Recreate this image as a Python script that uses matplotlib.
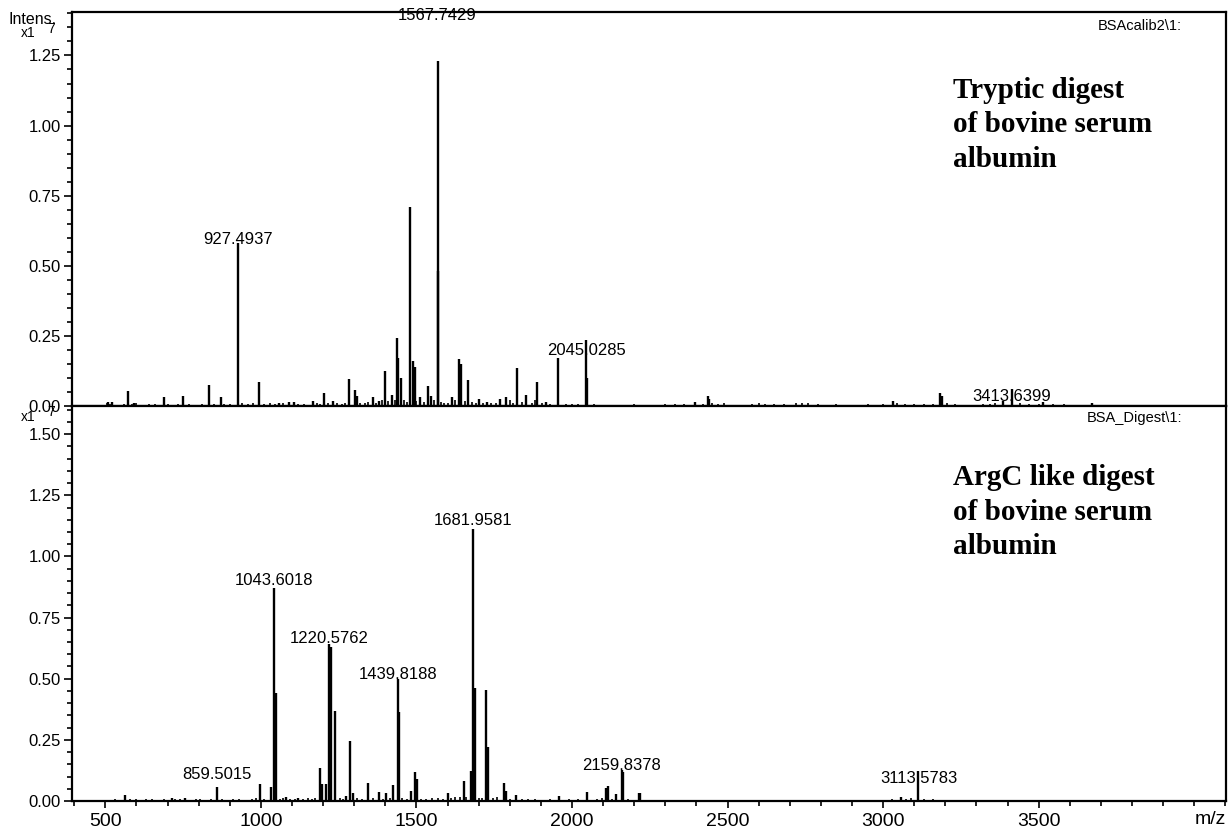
import matplotlib
matplotlib.use('Agg')
import matplotlib.pyplot as plt
from matplotlib.ticker import MultipleLocator, FixedLocator, FormatStrFormatter

plt.rcParams['font.family'] = ['Liberation Sans', 'DejaVu Sans']

# ---------------- data (intensity in units of 1e7) ----------------
top_mz = [508, 521, 574, 593, 689, 751, 832, 871, 927.4937, 994, 1058, 1091, 1108,
          1166, 1204, 1231, 1283, 1304, 1310, 1360, 1381, 1399, 1423, 1436, 1441,
          1450, 1479.8, 1488, 1495, 1513, 1537, 1546, 1567.7429, 1569.5, 1615, 1638,
          1644, 1665, 1700, 1727, 1770, 1788, 1824, 1852, 1889, 1916, 1956,
          2045.0285, 2049, 2395, 2437, 2441, 3031, 3184, 3190, 3385, 3413.6399, 3515, 3670]
top_int = [0.014, 0.014, 0.055, 0.010, 0.031, 0.036, 0.074, 0.031, 0.583, 0.086, 0.012, 0.015, 0.013,
           0.017, 0.045, 0.017, 0.096, 0.056, 0.037, 0.031, 0.017, 0.125, 0.038, 0.243, 0.171,
           0.100, 0.710, 0.160, 0.140, 0.033, 0.070, 0.036, 1.230, 0.480, 0.033, 0.167,
           0.148, 0.091, 0.025, 0.015, 0.025, 0.033, 0.135, 0.040, 0.085, 0.015, 0.170,
           0.235, 0.100, 0.015, 0.036, 0.025, 0.018, 0.048, 0.036, 0.018, 0.062, 0.014, 0.010]

top_noise_mz = [505, 515, 540, 560, 585, 600, 620, 640, 660, 700, 720, 735, 770, 790, 810, 850,
                880, 900, 940, 960, 975, 1010, 1030, 1045, 1070, 1120, 1140, 1180, 1190, 1215,
                1245, 1260, 1270, 1320, 1335, 1345, 1370, 1390, 1410, 1430, 1460, 1470, 1500,
                1525, 1555, 1580, 1590, 1600, 1625, 1655, 1680, 1690, 1715, 1740, 1755, 1800,
                1810, 1840, 1870, 1880, 1905, 1930, 1980, 2000, 2020, 2070, 2100, 2150, 2200,
                2250, 2300, 2330, 2360, 2420, 2450, 2470, 2490, 2520, 2580, 2600, 2620, 2650,
                2680, 2720, 2740, 2760, 2790, 2850, 2900, 2950, 3000, 3045, 3070, 3100, 3130,
                3160, 3205, 3230, 3270, 3320, 3345, 3360, 3440, 3470, 3500, 3545, 3580, 3620,
                3700, 3800, 3900, 3990]
top_noise_int = [0.012, 0.006, 0.005, 0.008, 0.006, 0.010, 0.005, 0.007, 0.006, 0.008, 0.005,
                 0.006, 0.008, 0.005, 0.007, 0.006, 0.008, 0.006, 0.009, 0.007, 0.010, 0.008,
                 0.011, 0.007, 0.009, 0.008, 0.006, 0.010, 0.007, 0.009, 0.012, 0.008, 0.010,
                 0.012, 0.009, 0.015, 0.012, 0.020, 0.018, 0.020, 0.020, 0.015, 0.018, 0.015,
                 0.020, 0.015, 0.010, 0.012, 0.020, 0.018, 0.015, 0.012, 0.010, 0.012, 0.010,
                 0.020, 0.012, 0.015, 0.012, 0.020, 0.010, 0.008, 0.006, 0.008, 0.006, 0.006,
                 0.005, 0.005, 0.006, 0.005, 0.006, 0.008, 0.006, 0.008, 0.010, 0.008, 0.010,
                 0.005, 0.008, 0.010, 0.008, 0.007, 0.006, 0.010, 0.012, 0.009, 0.007, 0.006,
                 0.005, 0.006, 0.007, 0.012, 0.008, 0.006, 0.007, 0.008, 0.012, 0.006, 0.005,
                 0.007, 0.008, 0.010, 0.010, 0.008, 0.007, 0.008, 0.006, 0.005, 0.004, 0.004,
                 0.004, 0.004]

bot_mz = [564, 713, 756, 859.5015, 997, 1031, 1043.6018, 1048.5, 1080, 1120, 1190, 1197.6,
          1208.7, 1220.5762, 1224, 1237, 1274, 1286, 1296, 1344, 1381, 1403, 1424,
          1439.8188, 1444, 1482, 1496, 1501, 1601, 1652, 1677, 1681.9581, 1687, 1724, 1729,
          1783, 1787, 1819, 1958, 2048, 2108, 2115, 2143, 2159.8378, 2163, 2214, 2220,
          3057, 3113.5783]
bot_int = [0.025, 0.014, 0.013, 0.058, 0.068, 0.058, 0.870, 0.440, 0.018, 0.014, 0.135, 0.068,
           0.068, 0.640, 0.630, 0.369, 0.020, 0.246, 0.034, 0.074, 0.036, 0.031, 0.066,
           0.500, 0.365, 0.041, 0.120, 0.090, 0.031, 0.083, 0.124, 1.114, 0.460, 0.455, 0.220,
           0.075, 0.040, 0.023, 0.020, 0.035, 0.055, 0.063, 0.027, 0.127, 0.120, 0.031, 0.034,
           0.018, 0.123]

bot_noise_mz = [480, 495, 510, 530, 545, 580, 600, 615, 630, 650, 670, 690, 700, 725, 740,
                770, 790, 805, 820, 840, 875, 890, 910, 930, 950, 970, 985, 1010, 1060, 1070,
                1095, 1110, 1135, 1150, 1165, 1175, 1255, 1265, 1310, 1325, 1360, 1392, 1415,
                1455, 1470, 1515, 1530, 1550, 1570, 1585, 1610, 1625, 1640, 1660, 1700, 1710,
                1745, 1760, 1800, 1840, 1860, 1880, 1900, 1930, 1990, 2020, 2080, 2095, 2130,
                2180, 2200, 2250, 2300, 2350, 2400, 2450, 2500, 2550, 2600, 2650, 2700, 2750,
                2800, 2850, 2900, 2950, 3000, 3030, 3075, 3090, 3130, 3160, 3200, 3250, 3300,
                3350, 3400, 3450, 3500, 3550, 3600, 3650, 3700, 3750, 3800, 3850, 3900, 3950,
                3995]
bot_noise_int = [0.004, 0.006, 0.005, 0.007, 0.006, 0.008, 0.010, 0.006, 0.007, 0.009, 0.006,
                 0.008, 0.006, 0.010, 0.007, 0.006, 0.008, 0.007, 0.006, 0.009, 0.007, 0.006,
                 0.008, 0.007, 0.006, 0.009, 0.012, 0.008, 0.010, 0.012, 0.008, 0.010, 0.009,
                 0.012, 0.010, 0.012, 0.012, 0.010, 0.014, 0.010, 0.012, 0.010, 0.012, 0.012,
                 0.010, 0.008, 0.010, 0.012, 0.014, 0.010, 0.012, 0.016, 0.015, 0.018, 0.014,
                 0.012, 0.012, 0.015, 0.010, 0.008, 0.010, 0.008, 0.006, 0.008, 0.007, 0.010,
                 0.008, 0.012, 0.010, 0.008, 0.006, 0.005, 0.005, 0.005, 0.006, 0.005, 0.005,
                 0.005, 0.006, 0.005, 0.005, 0.005, 0.005, 0.005, 0.004, 0.005, 0.006, 0.008,
                 0.010, 0.012, 0.010, 0.008, 0.006, 0.005, 0.005, 0.004, 0.005, 0.004, 0.005,
                 0.004, 0.004, 0.004, 0.004, 0.004, 0.004, 0.004, 0.004, 0.004, 0.004]

x_major_ticks = [500, 1000, 1500, 2000, 2500, 3000, 3500]

top_labels = [927.4937, 1567.7429, 2045.0285, 3413.6399]
bot_labels = [859.5015, 1043.6018, 1220.5762, 1439.8188, 1681.9581, 2159.8378, 3113.5783]

top_title = "Tryptic digest\nof bovine serum\nalbumin"
bot_title = "ArgC like digest\nof bovine serum\nalbumin"
top_file = "BSAcalib2\\1:"
bot_file = "BSA_Digest\\1:"

# label offsets in pixels (style)
label_off = {927.4937: 3, 1567.7429: 46, 2045.0285: -10, 3413.6399: -8,
             859.5015: 12, 1043.6018: 8, 1220.5762: 6, 1439.8188: 4,
             1681.9581: 8, 2159.8378: 4, 3113.5783: -8}

W, H = 1230, 831
fig = plt.figure(figsize=(W / 100, H / 100), dpi=100)

L, R = 72 / W, 1226 / W
mid = 1 - 406 / H
ax1 = fig.add_axes([L, mid, R - L, (1 - 12 / H) - mid])
ax2 = fig.add_axes([L, 1 - 801 / H, R - L, mid - (1 - 801 / H)])

XMIN, XMAX = 393, 4102

def style(ax, ytop, show_x):
    ax.set_xlim(XMIN, XMAX)
    ax.set_ylim(0, ytop)
    for s in ax.spines.values():
        s.set_linewidth(1.6)
    ax.yaxis.set_major_locator(MultipleLocator(0.25))
    ax.yaxis.set_minor_locator(MultipleLocator(0.05))
    ax.yaxis.set_major_formatter(FormatStrFormatter('%.2f'))
    ax.tick_params(axis='y', which='major', length=6, width=1.2, labelsize=12, pad=2)
    ax.tick_params(axis='y', which='minor', length=3.5, width=1.2)
    ax.xaxis.set_major_locator(FixedLocator(x_major_ticks))
    ax.xaxis.set_minor_locator(MultipleLocator(100))
    if show_x:
        ax.tick_params(axis='x', which='major', length=5, width=1.2, labelsize=14, pad=4)
        ax.tick_params(axis='x', which='minor', length=3.5, width=1.2)
    else:
        ax.tick_params(axis='x', which='both', bottom=False, labelbottom=False)

def draw(ax, mz, inten, nmz, nint, labels):
    ax.vlines(nmz, 0, nint, colors='black', lw=1.2)
    ax.vlines(mz, 0, inten, colors='black', lw=1.7)
    for lab in labels:
        h = inten[mz.index(lab)]
        ax.annotate(f"{lab:.4f}", xy=(lab, h), xytext=(0, label_off[lab]),
                    textcoords='offset pixels', ha='center', va='center', fontsize=12)

style(ax1, 1.405, False)
style(ax2, 1.615, True)
draw(ax1, top_mz, top_int, top_noise_mz, top_noise_int, top_labels)
draw(ax2, bot_mz, bot_int, bot_noise_mz, bot_noise_int, bot_labels)

# file names
fig.text(1182 / W, 1 - 26 / H, top_file, ha='right', va='center', fontsize=10.5)
fig.text(1182 / W, 1 - 418 / H, bot_file, ha='right', va='center', fontsize=10.5)

# headings
for txt, yc in [(top_title, 125), (bot_title, 512)]:
    fig.text(953 / W, 1 - yc / H, txt, ha='left', va='center', fontsize=21,
             fontweight='bold', family=['Liberation Serif', 'DejaVu Serif'], linespacing=1.38)

# axis annotations
fig.text(9 / W, 1 - 20 / H, "Intens.", ha='left', va='center', fontsize=11.5)
fig.text(21 / W, 1 - 33 / H, "x1", ha='left', va='center', fontsize=10)
fig.text(47 / W, 1 - 29 / H, "7", ha='left', va='center', fontsize=10)
fig.text(21 / W, 1 - 417 / H, "x1", ha='left', va='center', fontsize=10)
fig.text(47 / W, 1 - 412 / H, "7", ha='left', va='center', fontsize=10)
fig.text(1226 / W, 1 - 819 / H, "m/z", ha='right', va='center', fontsize=14)

fig.savefig('out.png', dpi=100)
